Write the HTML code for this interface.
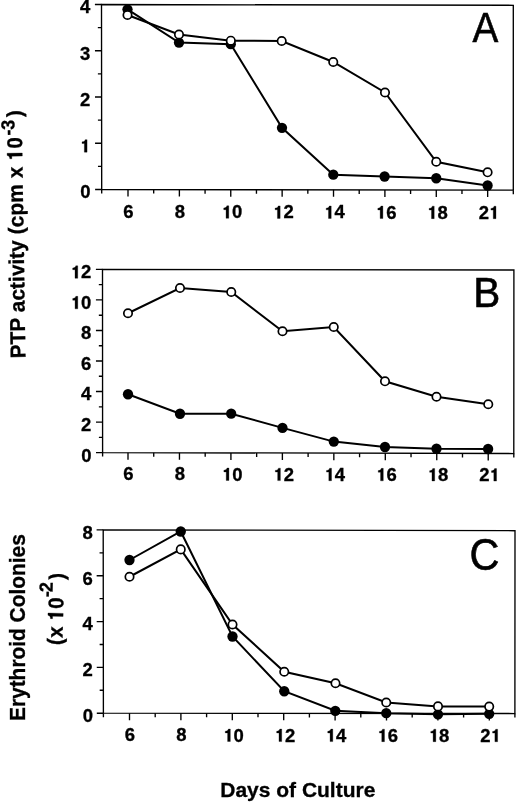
<!DOCTYPE html>
<html><head><meta charset="utf-8"><title>Figure</title>
<style>
html,body{margin:0;padding:0;background:#fff;}
body{width:520px;height:803px;overflow:hidden;font-family:"Liberation Sans",sans-serif;}
svg{display:block;will-change:transform;}
text{font-family:"Liberation Sans",sans-serif;fill:#000;}
.tk{font-size:17.6px;font-weight:bold;stroke:#000;stroke-width:0.3px;}
.lt{stroke:#000;stroke-width:0.6px;}
.ax{font-size:20.5px;font-weight:bold;stroke:#000;stroke-width:0.3px;}
.o1{stroke:#000;stroke-width:0.3px;vector-effect:non-scaling-stroke;}
.o2{stroke:#000;stroke-width:0.3px;vector-effect:non-scaling-stroke;}
.sp{font-size:18px;font-weight:bold;stroke:#000;stroke-width:0.3px;}
</style></head><body>
<svg width="520" height="803" viewBox="0 0 520 803">
<rect width="520" height="803" fill="#fff"/>
<g id="pA">
<polygon points="101.5,4.5 513.3,5.3 513.3,190.15 101.7,189.5" fill="none" stroke="#000" stroke-width="1.35" stroke-linejoin="miter"/>
<path d="M101.7 189.5v4M128 189.54v7M153.69 189.58v4M179.38 189.62v7M205.07 189.66v4M230.76 189.7v7M256.45 189.74v4M282.14 189.78v7M307.83 189.83v4M333.52 189.87v7M359.21 189.91v4M384.9 189.95v7M410.59 189.99v4M436.28 190.03v7M461.97 190.07v4M487.66 190.11v7M513.3 190.15v4M101.7 189.5h-6.6M101.67 166.38h-3.7M101.65 143.25h-6.6M101.62 120.12h-3.7M101.6 97h-6.6M101.58 73.88h-3.7M101.55 50.75h-6.6M101.53 27.62h-3.7M101.5 4.5h-6.6" stroke="#000" stroke-width="1.35" fill="none"/>
<g transform="translate(123.35 218.14) scale(1.05 1)"><text class="tk" x="0" y="0">6</text></g>
<g transform="translate(174.73 218.22) scale(1.05 1)"><text class="tk" x="0" y="0">8</text></g>
<g transform="translate(221.79 218.3) scale(1.05 1)"><path class="o1" d="M.378 0V-.709H.272C.258-.632.21-.588.105-.585V-.49H.231V0Z" transform="translate(0 0) scale(17.6)"/><text class="tk" x="9.79" y="0">0</text></g>
<g transform="translate(273.16 218.38) scale(1.05 1)"><path class="o1" d="M.378 0V-.709H.272C.258-.632.21-.588.105-.585V-.49H.231V0Z" transform="translate(0 0) scale(17.6)"/><text class="tk" x="9.79" y="0">2</text></g>
<g transform="translate(324.22 218.47) scale(1.05 1)"><path class="o1" d="M.378 0V-.709H.272C.258-.632.21-.588.105-.585V-.49H.231V0Z" transform="translate(0 0) scale(17.6)"/><text class="tk" x="9.79" y="0">4</text></g>
<g transform="translate(375.89 218.55) scale(1.05 1)"><path class="o1" d="M.378 0V-.709H.272C.258-.632.21-.588.105-.585V-.49H.231V0Z" transform="translate(0 0) scale(17.6)"/><text class="tk" x="9.79" y="0">6</text></g>
<g transform="translate(427.22 218.63) scale(1.05 1)"><path class="o1" d="M.378 0V-.709H.272C.258-.632.21-.588.105-.585V-.49H.231V0Z" transform="translate(0 0) scale(17.6)"/><text class="tk" x="9.79" y="0">8</text></g>
<g transform="translate(478.71 218.71) scale(1.05 1)"><text class="tk" x="0" y="0">2</text><path class="o1" d="M.378 0V-.709H.272C.258-.632.21-.588.105-.585V-.49H.231V0Z" transform="translate(9.79 0) scale(17.6)"/></g>
<g transform="translate(80.14 198.4) scale(1.05 1)"><text class="tk" x="0" y="0">0</text></g>
<g transform="translate(80.08 152.15) scale(1.05 1)"><path class="o1" d="M.378 0V-.709H.272C.258-.632.21-.588.105-.585V-.49H.231V0Z" transform="translate(0 0) scale(17.6)"/></g>
<g transform="translate(80.03 105.9) scale(1.05 1)"><text class="tk" x="0" y="0">2</text></g>
<g transform="translate(79.98 59.65) scale(1.05 1)"><text class="tk" x="0" y="0">3</text></g>
<g transform="translate(79.93 13.4) scale(1.05 1)"><text class="tk" x="0" y="0">4</text></g>
<polyline points="127.5,9.3 179,42.6 230.75,44.2 282,127.8 333.3,174.7 384.6,176.5 436.25,178.25 487.6,185.5" fill="none" stroke="#000" stroke-width="2"/>
<circle cx="127.5" cy="9.3" r="5.15" fill="#000"/>
<circle cx="179" cy="42.6" r="5.15" fill="#000"/>
<circle cx="230.75" cy="44.2" r="5.15" fill="#000"/>
<circle cx="282" cy="127.8" r="5.15" fill="#000"/>
<circle cx="333.3" cy="174.7" r="5.15" fill="#000"/>
<circle cx="384.6" cy="176.5" r="5.15" fill="#000"/>
<circle cx="436.25" cy="178.25" r="5.15" fill="#000"/>
<circle cx="487.6" cy="185.5" r="5.15" fill="#000"/>
<polyline points="127.5,15 179,34.5 230.8,40.7 281.7,41 333.25,62 385,92.5 436.25,161.75 487.6,172.3" fill="none" stroke="#000" stroke-width="2"/>
<circle cx="127.5" cy="15" r="4.2" fill="#fff" stroke="#000" stroke-width="1.7"/>
<circle cx="179" cy="34.5" r="4.2" fill="#fff" stroke="#000" stroke-width="1.7"/>
<circle cx="230.8" cy="40.7" r="4.2" fill="#fff" stroke="#000" stroke-width="1.7"/>
<circle cx="281.7" cy="41" r="4.2" fill="#fff" stroke="#000" stroke-width="1.7"/>
<circle cx="333.25" cy="62" r="4.2" fill="#fff" stroke="#000" stroke-width="1.7"/>
<circle cx="385" cy="92.5" r="4.2" fill="#fff" stroke="#000" stroke-width="1.7"/>
<circle cx="436.25" cy="161.75" r="4.2" fill="#fff" stroke="#000" stroke-width="1.7"/>
<circle cx="487.6" cy="172.3" r="4.2" fill="#fff" stroke="#000" stroke-width="1.7"/>
<text class="lt" font-size="42.5" transform="translate(472.6 42.3) scale(0.91 1.0)">A</text>
</g>
<g id="pB">
<polygon points="102.5,269.4 513.9,270 513.8,453.55 102.6,452.6" fill="none" stroke="#000" stroke-width="1.35" stroke-linejoin="miter"/>
<path d="M102.6 452.6v4M128 452.66v7M153.73 452.72v4M179.46 452.78v7M205.19 452.84v4M230.92 452.9v7M256.65 452.96v4M282.38 453.02v7M308.11 453.07v4M333.84 453.13v7M359.57 453.19v4M385.3 453.25v7M411.03 453.31v4M436.76 453.37v7M462.49 453.43v4M488.22 453.49v7M513.8 453.55v4M102.6 452.6h-6.6M102.59 437.33h-3.7M102.58 422.07h-6.6M102.57 406.8h-3.7M102.57 391.53h-6.6M102.56 376.27h-3.7M102.55 361h-6.6M102.54 345.73h-3.7M102.53 330.47h-6.6M102.53 315.2h-3.7M102.52 299.93h-6.6M102.51 284.67h-3.7M102.5 269.4h-6.6" stroke="#000" stroke-width="1.35" fill="none"/>
<g transform="translate(123.35 480.26) scale(1.05 1)"><text class="tk" x="0" y="0">6</text></g>
<g transform="translate(174.81 480.38) scale(1.05 1)"><text class="tk" x="0" y="0">8</text></g>
<g transform="translate(221.95 480.5) scale(1.05 1)"><path class="o1" d="M.378 0V-.709H.272C.258-.632.21-.588.105-.585V-.49H.231V0Z" transform="translate(0 0) scale(17.6)"/><text class="tk" x="9.79" y="0">0</text></g>
<g transform="translate(273.4 480.62) scale(1.05 1)"><path class="o1" d="M.378 0V-.709H.272C.258-.632.21-.588.105-.585V-.49H.231V0Z" transform="translate(0 0) scale(17.6)"/><text class="tk" x="9.79" y="0">2</text></g>
<g transform="translate(324.54 480.73) scale(1.05 1)"><path class="o1" d="M.378 0V-.709H.272C.258-.632.21-.588.105-.585V-.49H.231V0Z" transform="translate(0 0) scale(17.6)"/><text class="tk" x="9.79" y="0">4</text></g>
<g transform="translate(376.29 480.85) scale(1.05 1)"><path class="o1" d="M.378 0V-.709H.272C.258-.632.21-.588.105-.585V-.49H.231V0Z" transform="translate(0 0) scale(17.6)"/><text class="tk" x="9.79" y="0">6</text></g>
<g transform="translate(427.7 480.97) scale(1.05 1)"><path class="o1" d="M.378 0V-.709H.272C.258-.632.21-.588.105-.585V-.49H.231V0Z" transform="translate(0 0) scale(17.6)"/><text class="tk" x="9.79" y="0">8</text></g>
<g transform="translate(479.27 481.09) scale(1.05 1)"><text class="tk" x="0" y="0">2</text><path class="o1" d="M.378 0V-.709H.272C.258-.632.21-.588.105-.585V-.49H.231V0Z" transform="translate(9.79 0) scale(17.6)"/></g>
<g transform="translate(81.14 461.5) scale(1.05 1)"><text class="tk" x="0" y="0">0</text></g>
<g transform="translate(81.11 430.97) scale(1.05 1)"><text class="tk" x="0" y="0">2</text></g>
<g transform="translate(81.09 400.43) scale(1.05 1)"><text class="tk" x="0" y="0">4</text></g>
<g transform="translate(81.08 369.9) scale(1.05 1)"><text class="tk" x="0" y="0">6</text></g>
<g transform="translate(81.06 339.37) scale(1.05 1)"><text class="tk" x="0" y="0">8</text></g>
<g transform="translate(70.79 308.83) scale(1.05 1)"><path class="o1" d="M.378 0V-.709H.272C.258-.632.21-.588.105-.585V-.49H.231V0Z" transform="translate(0 0) scale(17.6)"/><text class="tk" x="9.79" y="0">0</text></g>
<g transform="translate(70.75 278.3) scale(1.05 1)"><path class="o1" d="M.378 0V-.709H.272C.258-.632.21-.588.105-.585V-.49H.231V0Z" transform="translate(0 0) scale(17.6)"/><text class="tk" x="9.79" y="0">2</text></g>
<polyline points="128,394.25 180,413.75 231.2,413.7 282.5,427.9 333.8,441.6 385,447 436.5,448.75 488.1,449" fill="none" stroke="#000" stroke-width="2"/>
<circle cx="128" cy="394.25" r="5.15" fill="#000"/>
<circle cx="180" cy="413.75" r="5.15" fill="#000"/>
<circle cx="231.2" cy="413.7" r="5.15" fill="#000"/>
<circle cx="282.5" cy="427.9" r="5.15" fill="#000"/>
<circle cx="333.8" cy="441.6" r="5.15" fill="#000"/>
<circle cx="385" cy="447" r="5.15" fill="#000"/>
<circle cx="436.5" cy="448.75" r="5.15" fill="#000"/>
<circle cx="488.1" cy="449" r="5.15" fill="#000"/>
<polyline points="128,313.25 180,288 231.25,292 282.5,331.25 333.75,327 385,381.3 436.5,396.75 488.25,404.25" fill="none" stroke="#000" stroke-width="2"/>
<circle cx="128" cy="313.25" r="4.2" fill="#fff" stroke="#000" stroke-width="1.7"/>
<circle cx="180" cy="288" r="4.2" fill="#fff" stroke="#000" stroke-width="1.7"/>
<circle cx="231.25" cy="292" r="4.2" fill="#fff" stroke="#000" stroke-width="1.7"/>
<circle cx="282.5" cy="331.25" r="4.2" fill="#fff" stroke="#000" stroke-width="1.7"/>
<circle cx="333.75" cy="327" r="4.2" fill="#fff" stroke="#000" stroke-width="1.7"/>
<circle cx="385" cy="381.3" r="4.2" fill="#fff" stroke="#000" stroke-width="1.7"/>
<circle cx="436.5" cy="396.75" r="4.2" fill="#fff" stroke="#000" stroke-width="1.7"/>
<circle cx="488.25" cy="404.25" r="4.2" fill="#fff" stroke="#000" stroke-width="1.7"/>
<text class="lt" font-size="42" transform="translate(473.2 307.3) scale(0.965 1.0)">B</text>
</g>
<g id="pC">
<polygon points="103.2,529.9 515,530.7 514.9,713.55 103.4,713.2" fill="none" stroke="#000" stroke-width="1.35" stroke-linejoin="miter"/>
<path d="M103.4 713.2v4M129.5 713.22v7M155.2 713.24v4M180.9 713.27v7M206.6 713.29v4M232.3 713.31v7M258 713.33v4M283.7 713.35v7M309.4 713.38v4M335.1 713.4v7M360.8 713.42v4M386.5 713.44v7M412.2 713.46v4M437.9 713.48v7M463.6 713.51v4M489.3 713.53v7M514.9 713.55v4M103.4 713.2h-6.6M103.38 690.29h-3.7M103.35 667.38h-6.6M103.33 644.46h-3.7M103.3 621.55h-6.6M103.28 598.64h-3.7M103.25 575.73h-6.6M103.23 552.81h-3.7M103.2 529.9h-6.6" stroke="#000" stroke-width="1.35" fill="none"/>
<g transform="translate(124.85 741.42) scale(1.05 1)"><text class="tk" x="0" y="0">6</text></g>
<g transform="translate(176.25 741.47) scale(1.05 1)"><text class="tk" x="0" y="0">8</text></g>
<g transform="translate(223.33 741.51) scale(1.05 1)"><path class="o1" d="M.378 0V-.709H.272C.258-.632.21-.588.105-.585V-.49H.231V0Z" transform="translate(0 0) scale(17.6)"/><text class="tk" x="9.79" y="0">0</text></g>
<g transform="translate(274.72 741.55) scale(1.05 1)"><path class="o1" d="M.378 0V-.709H.272C.258-.632.21-.588.105-.585V-.49H.231V0Z" transform="translate(0 0) scale(17.6)"/><text class="tk" x="9.79" y="0">2</text></g>
<g transform="translate(325.8 741.6) scale(1.05 1)"><path class="o1" d="M.378 0V-.709H.272C.258-.632.21-.588.105-.585V-.49H.231V0Z" transform="translate(0 0) scale(17.6)"/><text class="tk" x="9.79" y="0">4</text></g>
<g transform="translate(377.49 741.64) scale(1.05 1)"><path class="o1" d="M.378 0V-.709H.272C.258-.632.21-.588.105-.585V-.49H.231V0Z" transform="translate(0 0) scale(17.6)"/><text class="tk" x="9.79" y="0">6</text></g>
<g transform="translate(428.84 741.68) scale(1.05 1)"><path class="o1" d="M.378 0V-.709H.272C.258-.632.21-.588.105-.585V-.49H.231V0Z" transform="translate(0 0) scale(17.6)"/><text class="tk" x="9.79" y="0">8</text></g>
<g transform="translate(480.35 741.73) scale(1.05 1)"><text class="tk" x="0" y="0">2</text><path class="o1" d="M.378 0V-.709H.272C.258-.632.21-.588.105-.585V-.49H.231V0Z" transform="translate(9.79 0) scale(17.6)"/></g>
<g transform="translate(82.64 722.1) scale(1.05 1)"><text class="tk" x="0" y="0">0</text></g>
<g transform="translate(82.58 676.27) scale(1.05 1)"><text class="tk" x="0" y="0">2</text></g>
<g transform="translate(82.53 630.45) scale(1.05 1)"><text class="tk" x="0" y="0">4</text></g>
<g transform="translate(82.48 584.62) scale(1.05 1)"><text class="tk" x="0" y="0">6</text></g>
<g transform="translate(82.43 538.8) scale(1.05 1)"><text class="tk" x="0" y="0">8</text></g>
<polyline points="129.5,560 180.75,531.5 232.5,636.5 284.25,691.25 335.3,710.8 386.25,713.2 438,714.3 489.2,713.85" fill="none" stroke="#000" stroke-width="2"/>
<circle cx="129.5" cy="560" r="5.15" fill="#000"/>
<circle cx="180.75" cy="531.5" r="5.15" fill="#000"/>
<circle cx="232.5" cy="636.5" r="5.15" fill="#000"/>
<circle cx="284.25" cy="691.25" r="5.15" fill="#000"/>
<circle cx="335.3" cy="710.8" r="5.15" fill="#000"/>
<circle cx="386.25" cy="713.2" r="5.15" fill="#000"/>
<circle cx="438" cy="714.3" r="5.15" fill="#000"/>
<circle cx="489.2" cy="713.85" r="5.15" fill="#000"/>
<polyline points="129.5,576.75 180.75,549.4 232.5,624.5 284.25,671.75 335.5,683.25 386.25,702.5 438,706.4 489.2,706.6" fill="none" stroke="#000" stroke-width="2"/>
<circle cx="129.5" cy="576.75" r="4.2" fill="#fff" stroke="#000" stroke-width="1.7"/>
<circle cx="180.75" cy="549.4" r="4.2" fill="#fff" stroke="#000" stroke-width="1.7"/>
<circle cx="232.5" cy="624.5" r="4.2" fill="#fff" stroke="#000" stroke-width="1.7"/>
<circle cx="284.25" cy="671.75" r="4.2" fill="#fff" stroke="#000" stroke-width="1.7"/>
<circle cx="335.5" cy="683.25" r="4.2" fill="#fff" stroke="#000" stroke-width="1.7"/>
<circle cx="386.25" cy="702.5" r="4.2" fill="#fff" stroke="#000" stroke-width="1.7"/>
<circle cx="438" cy="706.4" r="4.2" fill="#fff" stroke="#000" stroke-width="1.7"/>
<circle cx="489.2" cy="706.6" r="4.2" fill="#fff" stroke="#000" stroke-width="1.7"/>
<text class="lt" font-size="44.5" transform="translate(469.6 569.6) scale(0.93 1.0)">C</text>
</g>
<g transform="translate(25.5 358.3) rotate(-90.9)">
<text class="ax" transform="translate(0 0) scale(1 1.046)" textLength="174.1" lengthAdjust="spacingAndGlyphs">PTP activity (cpm</text>
<text class="ax" transform="translate(180.4 0) scale(1 1.046)">x</text>
<path class="o2" d="M.378 0V-.709H.272C.258-.632.21-.588.105-.585V-.49H.231V0Z" transform="translate(197.55 0) scale(20.5 21.44)"/>
<text class="ax" transform="translate(209.8 0) scale(1 1.046)">0</text>
<text class="sp" transform="translate(223 -8.1) scale(1 1.046)">-</text>
<text class="sp" transform="translate(228.8 -7.3) scale(1 1.046)">3</text>
<text class="ax" transform="translate(241.4 0) scale(1 1.046)">)</text>
</g>
<g transform="translate(25 721) rotate(-90)">
<text class="ax" transform="translate(0 0) scale(1 1.046)" textLength="186.8" lengthAdjust="spacingAndGlyphs">Erythroid Colonies</text>
</g>
<g transform="translate(62.3 645.2) rotate(-88.4)">
<text class="ax" transform="translate(0 0) scale(1 1.046)">(</text>
<text class="ax" transform="translate(7.1 0) scale(1 1.046)">x</text>
<path class="o2" d="M.378 0V-.709H.272C.258-.632.21-.588.105-.585V-.49H.231V0Z" transform="translate(24.05 0) scale(20.5 21.44)"/>
<text class="ax" transform="translate(36.3 0) scale(1 1.046)">0</text>
<text class="sp" transform="translate(47.6 -11.2) scale(1 1.046)">-</text>
<text class="sp" transform="translate(52.7 -11.2) scale(1 1.046)">2</text>
<text class="ax" transform="translate(65.2 0) scale(1 1.046)">)</text>
</g>
<text class="ax" transform="translate(220.3 796.8)" textLength="155" lengthAdjust="spacingAndGlyphs">Days of Culture</text>
</svg>
</body></html>
